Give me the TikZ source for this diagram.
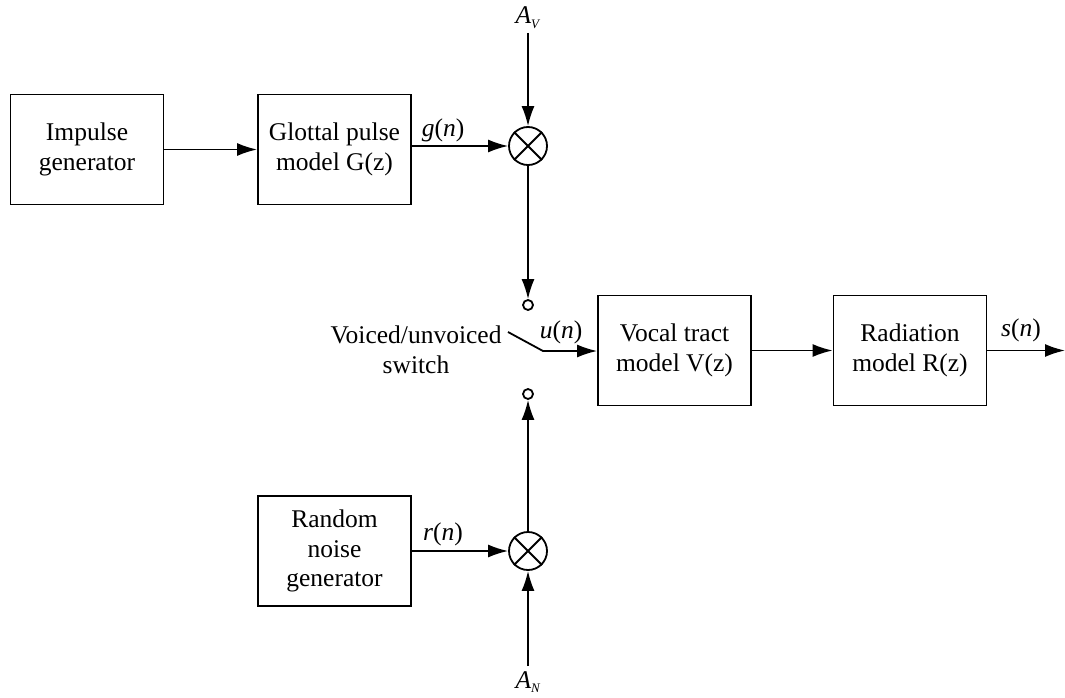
\documentclass[tikz,border=0pt]{standalone}
\usepackage{fontspec}
\setmainfont{Liberation Serif}
\usetikzlibrary{arrows.meta}
\begin{document}
\begin{tikzpicture}[x=1pt,y=-1pt,
  line width=1.8pt,
  every node/.style={font=\fontsize{25.5}{29.5}\selectfont},
  blk/.style={draw,minimum width=153pt,minimum height=110pt,align=center,inner sep=0pt},
  mult/.style={draw,circle,minimum size=38pt,inner sep=0pt},
  term/.style={draw,circle,minimum size=10pt,inner sep=0pt,fill=white},
  sig/.style={-{Latex[length=20pt,width=13pt]}},
  lbl/.style={inner sep=1pt}]
\useasboundingbox (0,0) rectangle (1065,698);

% blocks
\node[blk] (imp) at (87,149.5) {Impulse\\generator};
\node[blk] (glot) at (334.5,149.5) {Glottal pulse\\model G(z)};
\node[blk] (noise) at (334.5,551) {Random\\noise\\generator};
\node[blk] (vocal) at (674.5,350.5) {Vocal tract\\model V(z)};
\node[blk] (rad) at (910,350.5) {Radiation\\model R(z)};

% multipliers
\node[mult] (mv) at (528,146) {};
\draw (mv.north west) -- (mv.south east) (mv.north east) -- (mv.south west);
\node[mult] (mn) at (528,551) {};
\draw (mn.north west) -- (mn.south east) (mn.north east) -- (mn.south west);

% gain inputs
\node[lbl] (av) at (528,18) {\textit{A}\raisebox{-0.4ex}{\fontsize{13}{13}\selectfont\textit{V}}};
\node[lbl] (an) at (528,682) {\textit{A}\raisebox{-0.4ex}{\fontsize{13}{13}\selectfont\textit{N}}};
\coordinate (avend) at (528,33);
\coordinate (anend) at (528,666);
\draw[sig] (avend) -- (mv.north);
\draw[sig] (anend) -- (mn.south);

% switch contacts
\node[term] (cv) at (528,305) {};
\node[term] (cn) at (528,394) {};
\coordinate (pivot) at (543,351);
\coordinate (arm) at (508,332);

% signal path
\draw[sig] (imp.east) -- (glot.east -| imp.east) -- (glot.west);
\draw[sig] (glot.east |- mv.west) -- (mv.west);
\draw[sig] (mv.south) -- (cv.north);
\draw[sig] (mn.north) -- (cn.south);
\draw[sig] (noise.east |- mn.west) -- (mn.west);
\draw[sig] (arm) -- (pivot) -- (vocal.west |- pivot);
\draw[sig] (vocal.east) -- (rad.west);
\coordinate (out) at (1065,350.5);
\draw[sig] (rad.east) -- (out);

% labels
\node[lbl] at (443,130) {\textit{g}(\textit{n})};
\node[lbl] at (443,534) {\textit{r}(\textit{n})};
\node[lbl] at (561,332) {\textit{u}(\textit{n})};
\node[lbl] at (1021,330) {\textit{s}(\textit{n})};
\node[lbl,align=center] at (416,350) {Voiced/unvoiced\\switch};
\end{tikzpicture}
\end{document}
